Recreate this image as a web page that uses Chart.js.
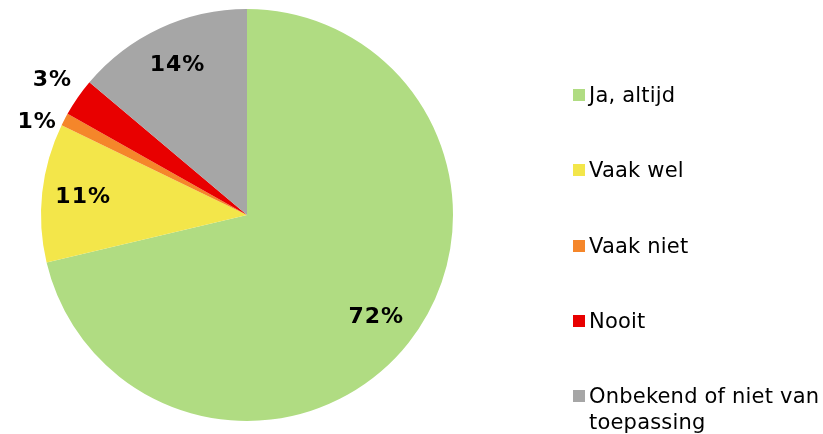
<!DOCTYPE html>
<html lang="nl">
  <head>
    <meta charset="UTF-8" />
    <title>Taartdiagram</title>
    <script src="https://cdn.jsdelivr.net/npm/chart.js"></script>
    <style>
      html,
      body {
        margin: 0;
        padding: 0;
        background: #fff;
        overflow: hidden;
      }
      .wrap {
        position: relative;
        width: 823px;
        height: 434px;
      }
      #legend {
        position: absolute;
        left: 573px;
        top: 82px;
        font-family: "DejaVu Sans", Verdana, sans-serif;
        font-size: 21px;
        line-height: 26px;
        color: #000;
      }
      .legend-item {
        display: flex;
        align-items: flex-start;
        margin-bottom: 49.3px;
      }
      .legend-box {
        width: 12px;
        height: 12px;
        margin-top: 7px;
        margin-right: 4px;
        flex: none;
      }
      .legend-text {
        width: 234px;
        letter-spacing: 0.2px;
      }
    </style>
  </head>
  <body>
    <div class="wrap">
      <canvas id="pieChart" width="823" height="434"></canvas>
      <div id="legend"></div>
    </div>

    <script>
      // Gegevens
      const categories = [
        "Ja, altijd",
        "Vaak wel",
        "Vaak niet",
        "Nooit",
        "Onbekend of niet van toepassing",
      ];
      const percentages = [72, 11, 1, 3, 14];
      const sliceColors = ["#b0dc82", "#f3e64a", "#f5862a", "#e80000", "#a6a6a6"];

      // Labels met percentages (binnen of buiten de taart)
      const pieLabels = {
        id: "pieLabels",
        afterDatasetsDraw(chart) {
          const ctx = chart.ctx;
          const meta = chart.getDatasetMeta(0);
          const total = percentages.reduce((a, b) => a + b, 0);
          const outside = [];
          ctx.save();
          ctx.font = "bold 22px 'DejaVu Sans', Verdana, sans-serif";
          ctx.letterSpacing = "1px";
          ctx.fillStyle = "#000";
          ctx.textAlign = "center";
          ctx.textBaseline = "middle";
          meta.data.forEach((arc, i) => {
            const p = arc.getProps(["x", "y", "startAngle", "endAngle", "outerRadius"], true);
            const mid = (p.startAngle + p.endAngle) / 2;
            const inside = percentages[i] / total > 0.05;
            const r = p.outerRadius * (inside ? 0.8 : 1.15);
            const lx = p.x + Math.cos(mid) * r;
            const ly = p.y + Math.sin(mid) * r;
            if (inside) {
              ctx.fillText(percentages[i] + "%", lx, ly);
            } else {
              outside.push({ text: percentages[i] + "%", x: lx, y: ly });
            }
          });
          // buitenlabels niet laten overlappen
          outside.sort((a, b) => a.y - b.y);
          for (let k = 1; k < outside.length; k++) {
            if (outside[k].y - outside[k - 1].y < 42) {
              outside[k].y = outside[k - 1].y + 42;
            }
          }
          outside.forEach((o) => ctx.fillText(o.text, o.x, o.y));
          ctx.restore();
        },
      };

      const chart = new Chart(document.getElementById("pieChart"), {
        type: "pie",
        data: {
          labels: categories,
          datasets: [
            {
              data: percentages,
              backgroundColor: sliceColors,
              borderWidth: 0,
            },
          ],
        },
        options: {
          responsive: false,
          devicePixelRatio: 1,
          animation: false,
          layout: {
            padding: { top: 9, bottom: 13, left: 0, right: 329 },
          },
          plugins: {
            legend: { display: false },
            tooltip: { enabled: false },
          },
        },
        plugins: [pieLabels],
      });

      // Legenda rechts
      const legend = document.getElementById("legend");
      categories.forEach((name, i) => {
        const item = document.createElement("div");
        item.className = "legend-item";
        const box = document.createElement("span");
        box.className = "legend-box";
        box.style.background = sliceColors[i];
        const text = document.createElement("span");
        text.className = "legend-text";
        text.textContent = name;
        item.appendChild(box);
        item.appendChild(text);
        legend.appendChild(item);
      });
    </script>
  </body>
</html>
